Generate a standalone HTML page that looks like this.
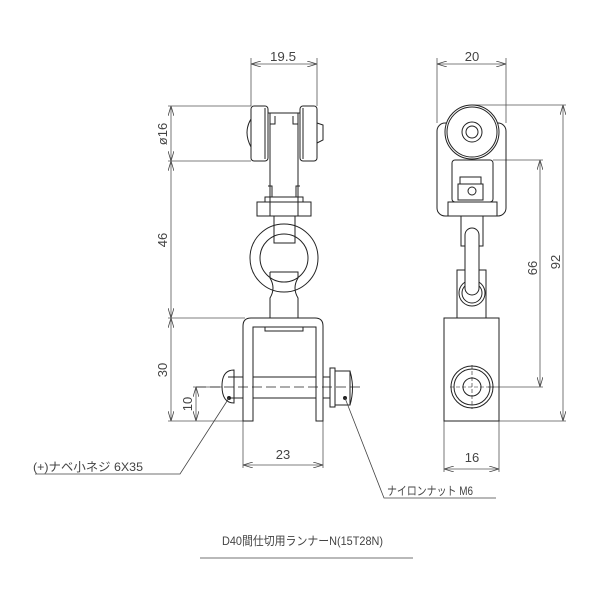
<!DOCTYPE html>
<html><head><meta charset="utf-8"><style>html,body{margin:0;padding:0;background:#fff}svg{display:block}</style></head>
<body>
<svg width="600" height="600" viewBox="0 0 600 600" xmlns="http://www.w3.org/2000/svg" font-family="Liberation Sans, Noto Sans CJK JP, sans-serif" fill="none" stroke="#222" stroke-width="1">
<defs>
<marker id="a" viewBox="0 0 10 6" refX="10" refY="3" markerWidth="10" markerHeight="6" orient="auto-start-reverse" markerUnits="userSpaceOnUse"><path d="M0,0 L10,3 L0,6" fill="none" stroke="#444" stroke-width="0.8"/></marker>
</defs>
<g stroke="#555" stroke-width="0.8">
<line x1="251" y1="58" x2="251" y2="106"/><line x1="317" y1="58" x2="317" y2="106"/>
<line x1="251" y1="64" x2="317" y2="64" marker-start="url(#a)" marker-end="url(#a)"/>
<line x1="168" y1="106" x2="251" y2="106"/><line x1="168" y1="161" x2="251" y2="161"/>
<line x1="168" y1="318" x2="245" y2="318"/><line x1="168" y1="421" x2="243" y2="421"/>
<line x1="171" y1="106" x2="171" y2="161" marker-start="url(#a)" marker-end="url(#a)"/>
<line x1="171" y1="161" x2="171" y2="318" marker-start="url(#a)" marker-end="url(#a)"/>
<line x1="171" y1="318" x2="171" y2="421" marker-start="url(#a)" marker-end="url(#a)"/>
<line x1="193" y1="387" x2="222" y2="387"/>
<line x1="196" y1="387" x2="196" y2="421" marker-start="url(#a)" marker-end="url(#a)"/>
<line x1="243" y1="421" x2="243" y2="468"/><line x1="323" y1="421" x2="323" y2="468"/>
<line x1="243" y1="465" x2="323" y2="465" marker-start="url(#a)" marker-end="url(#a)"/>
</g>
<g fill="#444" stroke="none" font-size="13">
<text x="283" y="61" text-anchor="middle" textLength="26" lengthAdjust="spacingAndGlyphs">19.5</text>
<text x="283" y="459" text-anchor="middle">23</text>
<text transform="translate(167,134) rotate(-90)" text-anchor="middle">ø16</text>
<text transform="translate(167,240) rotate(-90)" text-anchor="middle">46</text>
<text transform="translate(167,370) rotate(-90)" text-anchor="middle">30</text>
<text transform="translate(192,404) rotate(-90)" text-anchor="middle">10</text>
</g>
<rect x="251" y="106" width="17" height="55" rx="3"/><rect x="300" y="106" width="17" height="55" rx="3"/>
<line x1="265" y1="108" x2="265" y2="159"/><line x1="303" y1="108" x2="303" y2="159"/>
<path d="M251,119 Q243,132 251,147"/><path d="M317,123 L323,125 L323,140 L317,143"/>
<path d="M268,113 H300 M270,113 V216 M298,113 V216"/>
<path d="M275,116 V124 H270 M293,116 V124 H298"/>
<path d="M268,186 H272 V197 M300,186 H296 V197"/>
<rect x="257" y="202" width="54" height="14"/><path d="M265,202 V197 H303 V202"/>
<path d="M274,216 V243 H295 V216"/>
<circle cx="284" cy="258" r="34"/><circle cx="284" cy="258" r="24"/>
<path d="M270,272 H298 V278 Q292,288 298,298 V318 M270,272 V278 Q276,288 270,298 V318"/>
<path d="M243,421 V326 Q243,318 251,318 H315 Q323,318 323,326 V421 H316 V327 H253 V421 Z"/>
<rect x="265" y="327" width="38" height="4"/>
<path d="M228,377 H243 M253,377 H316 M323,377 H330 M228,398 H243 M253,398 H316 M323,398 H330"/>
<path d="M234,370 Q222,370 222,386 Q222,403 234,403 Z"/>
<rect x="330" y="368" width="5" height="39"/><rect x="335" y="371" width="15" height="34"/><path d="M350,371 Q355,388 350,405"/>
<line x1="196" y1="387" x2="360" y2="387" stroke-dasharray="10,4" stroke-width="0.8"/>
<circle cx="229" cy="398" r="1.5" fill="#222"/><circle cx="345" cy="398" r="1.5" fill="#222"/>
<g stroke="#444" stroke-width="0.8">
<polyline points="229,398 180,474 35,474"/>
<polyline points="345,398 384,498 496,498"/>
<line x1="200" y1="558" x2="413" y2="558"/>
</g>
<g fill="#444" stroke="none" font-size="12">
<text x="33" y="471" textLength="110" lengthAdjust="spacingAndGlyphs">(+)ナベ小ネジ 6X35</text>
<text x="387" y="495" textLength="86" lengthAdjust="spacingAndGlyphs">ナイロンナット M6</text>
<text x="222" y="545" textLength="161" lengthAdjust="spacingAndGlyphs">D40間仕切用ランナーN(15T28N)</text>
</g>
<g stroke="#555" stroke-width="0.8">
<line x1="437" y1="58" x2="437" y2="123"/><line x1="506" y1="58" x2="506" y2="123"/>
<line x1="437" y1="64" x2="506" y2="64" marker-start="url(#a)" marker-end="url(#a)"/>
<line x1="472" y1="105" x2="566" y2="105"/><line x1="493" y1="160" x2="543" y2="160"/>
<line x1="488" y1="387" x2="543" y2="387"/><line x1="499" y1="421" x2="566" y2="421"/>
<line x1="540" y1="160" x2="540" y2="387" marker-start="url(#a)" marker-end="url(#a)"/>
<line x1="563" y1="105" x2="563" y2="421" marker-start="url(#a)" marker-end="url(#a)"/>
<line x1="444" y1="421" x2="444" y2="472"/><line x1="499" y1="421" x2="499" y2="472"/>
<line x1="444" y1="469" x2="499" y2="469" marker-start="url(#a)" marker-end="url(#a)"/>
</g>
<g fill="#444" stroke="none" font-size="13">
<text x="472" y="61" text-anchor="middle">20</text>
<text x="472" y="462" text-anchor="middle">16</text>
<text transform="translate(537,268) rotate(-90)" text-anchor="middle">66</text>
<text transform="translate(560,262) rotate(-90)" text-anchor="middle">92</text>
</g>
<rect x="437" y="123" width="69" height="93" rx="8"/>
<circle cx="472" cy="132" r="27" fill="#fff"/><circle cx="472" cy="132" r="25"/>
<circle cx="472" cy="132" r="10"/><circle cx="472" cy="132" r="6"/>
<rect x="452" y="160" width="41" height="42" rx="3"/>
<rect x="458" y="184" width="25" height="16"/><rect x="460" y="177" width="21" height="7"/>
<circle cx="472" cy="191" r="4"/>
<rect x="448" y="202" width="49" height="14"/>
<path d="M461,216 V246 H483 V216"/>
<path d="M457,318 V270 H486 V318"/>
<circle cx="472" cy="293" r="13"/><circle cx="472" cy="293" r="10"/>
<rect x="465" y="228" width="14" height="67" rx="7" fill="#fff"/>
<rect x="444" y="318" width="55" height="103"/>
<circle cx="472" cy="387" r="21"/><circle cx="472" cy="387" r="18"/><circle cx="472" cy="387" r="9"/>
<line x1="450" y1="387" x2="494" y2="387" stroke-dasharray="4,2" stroke-width="0.6"/>
<line x1="472" y1="365" x2="472" y2="409" stroke-dasharray="4,2" stroke-width="0.6"/>
</svg>
</body></html>
